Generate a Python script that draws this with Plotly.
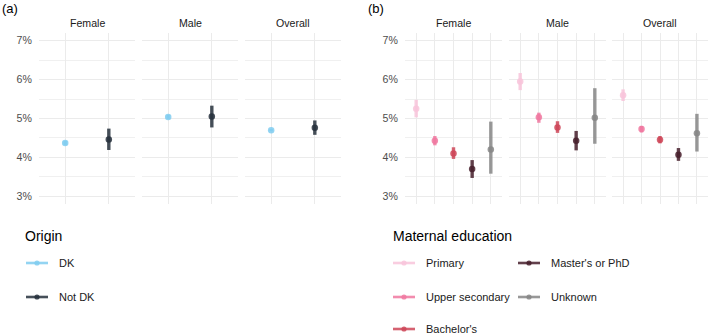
import plotly.graph_objects as go

# ---------------- data ----------------
facets = ["Female", "Male", "Overall"]

origin_groups = ["DK", "Not DK"]
origin_colors = ["rgba(128,204,240,0.85)", "rgba(38,48,60,0.85)"]
origin_est = [[4.37, 4.46], [5.04, 5.05], [4.70, 4.76]]
origin_lo = [[4.32, 4.19], [4.99, 4.77], [4.67, 4.58]]
origin_hi = [[4.42, 4.74], [5.09, 5.33], [4.73, 4.95]]

edu_groups = ["Primary", "Upper secondary", "Bachelor's", "Master's or PhD", "Unknown"]
edu_colors = ["rgba(248,196,218,0.85)", "rgba(240,120,160,0.85)", "rgba(206,70,88,0.85)",
              "rgba(70,30,44,0.85)", "rgba(134,134,134,0.85)"]
edu_est = [[5.25, 4.43, 4.10, 3.70, 4.20],
           [5.95, 5.03, 4.77, 4.43, 5.02],
           [5.60, 4.73, 4.45, 4.07, 4.62]]
edu_lo = [[5.03, 4.31, 3.96, 3.47, 3.58],
          [5.73, 4.89, 4.63, 4.18, 4.35],
          [5.45, 4.64, 4.36, 3.91, 4.15]]
edu_hi = [[5.48, 4.55, 4.26, 3.93, 4.92],
          [6.17, 5.15, 4.93, 4.68, 5.78],
          [5.75, 4.81, 4.55, 4.24, 5.12]]

y_ticks = [3, 4, 5, 6, 7]
y_tick_labels = ["3%", "4%", "5%", "6%", "7%"]
y_minor = [3.5, 4.5, 5.5, 6.5]

# ---------------- layout helpers ----------------
W, H = 708, 335
FONT = "Liberation Sans, Arial, sans-serif"


def px(x):
    return x / W


def py(y):
    return 1 - y / H


panel_px = [(39, 135), (142, 238), (245, 341), (405, 502), (509, 606), (612, 708)]
ydom = [py(204), py(33)]

fig = go.Figure()
layout = dict(
    width=W, height=H, margin=dict(l=0, r=0, t=0, b=0),
    paper_bgcolor="white", plot_bgcolor="white",
    font=dict(family=FONT, size=11, color="#1a1a1a"),
    showlegend=False,
)

panels = []
for i in range(3):
    panels.append((origin_groups, origin_colors, origin_est[i], origin_lo[i], origin_hi[i]))
for i in range(3):
    panels.append((edu_groups, edu_colors, edu_est[i], edu_lo[i], edu_hi[i]))

for k, (groups, colors, est, lo, hi) in enumerate(panels, start=1):
    n = len(groups)
    xa = "x" if k == 1 else f"x{k}"
    ya = "y" if k == 1 else f"y{k}"
    for j in range(n):
        fig.add_trace(go.Scatter(
            x=[j + 1], y=[est[j]], mode="markers",
            marker=dict(color=colors[j], size=6.5, line=dict(width=0)),
            error_y=dict(type="data", symmetric=False,
                         array=[hi[j] - est[j]], arrayminus=[est[j] - lo[j]],
                         color=colors[j], thickness=3.4, width=0),
            xaxis=xa, yaxis=ya, showlegend=False, hoverinfo="skip",
        ))
    l, r = panel_px[k - 1]
    layout["xaxis" if k == 1 else f"xaxis{k}"] = dict(
        domain=[px(l), px(r)], range=[0.4, n + 0.6], anchor=ya,
        tickvals=list(range(1, n + 1)), showticklabels=False, ticks="",
        showgrid=True, gridcolor="#ebebeb", gridwidth=1,
        zeroline=False, showline=False, fixedrange=True,
    )
    layout["yaxis" if k == 1 else f"yaxis{k}"] = dict(
        domain=ydom, range=[2.8, 7.2], anchor=xa,
        tickmode="array", tickvals=y_ticks, ticktext=y_tick_labels,
        showticklabels=(k in (1, 4)), ticks="outside", ticklen=4,
        tickcolor="rgba(0,0,0,0)",
        tickfont=dict(family=FONT, size=10.6, color="#4d4d4d"),
        showgrid=True, gridcolor="#ebebeb", gridwidth=1,
        minor=dict(tickvals=y_minor, showgrid=True, gridcolor="#f0f0f0", gridwidth=1, ticks=""),
        zeroline=False, showline=False, fixedrange=True,
    )

fig.update_layout(**layout)

annotations = []
shapes = []

# strip titles
for k in range(6):
    l, r = panel_px[k]
    annotations.append(dict(
        x=px((l + r) / 2), y=py(23), xref="paper", yref="paper",
        text=facets[k % 3], showarrow=False, xanchor="center", yanchor="middle",
        font=dict(family=FONT, size=10.6, color="#1a1a1a"),
    ))

# panel tags
for tag, x in [("(a)", 0), ("(b)", 366)]:
    annotations.append(dict(
        x=px(x), y=py(8), xref="paper", yref="paper", text=tag, showarrow=False,
        xanchor="left", yanchor="middle", font=dict(family=FONT, size=13, color="black"),
    ))

# legend titles
for title, x in [("Origin", 23), ("Maternal education", 391)]:
    annotations.append(dict(
        x=px(x), y=py(236), xref="paper", yref="paper", text=title, showarrow=False,
        xanchor="left", yanchor="middle", font=dict(family=FONT, size=14, color="black"),
    ))


def legend_key(x0, x1, y, color, label, tx):
    shapes.append(dict(type="line", xref="paper", yref="paper",
                       x0=px(x0), x1=px(x1), y0=py(y), y1=py(y),
                       line=dict(color=color, width=2.6)))
    cx = (x0 + x1) / 2
    shapes.append(dict(type="circle", xref="paper", yref="paper",
                       x0=px(cx - 2.6), x1=px(cx + 2.6), y0=py(y + 2.6), y1=py(y - 2.6),
                       fillcolor=color, line=dict(width=0)))
    annotations.append(dict(
        x=px(tx), y=py(y), xref="paper", yref="paper", text=label, showarrow=False,
        xanchor="left", yanchor="middle", font=dict(family=FONT, size=11, color="#1a1a1a"),
    ))


origin_rows = [263, 297]
for j, g in enumerate(origin_groups):
    legend_key(26, 48, origin_rows[j], origin_colors[j], g, 57)

edu_rows = [263, 297, 329]
for j, g in enumerate(edu_groups):
    col, row = divmod(j, 3)
    if col == 0:
        legend_key(393, 415, edu_rows[row], edu_colors[j], g, 424)
    else:
        legend_key(518, 540, edu_rows[row], edu_colors[j], g, 549)

fig.update_layout(annotations=annotations, shapes=shapes)

fig.write_html("out.html")
